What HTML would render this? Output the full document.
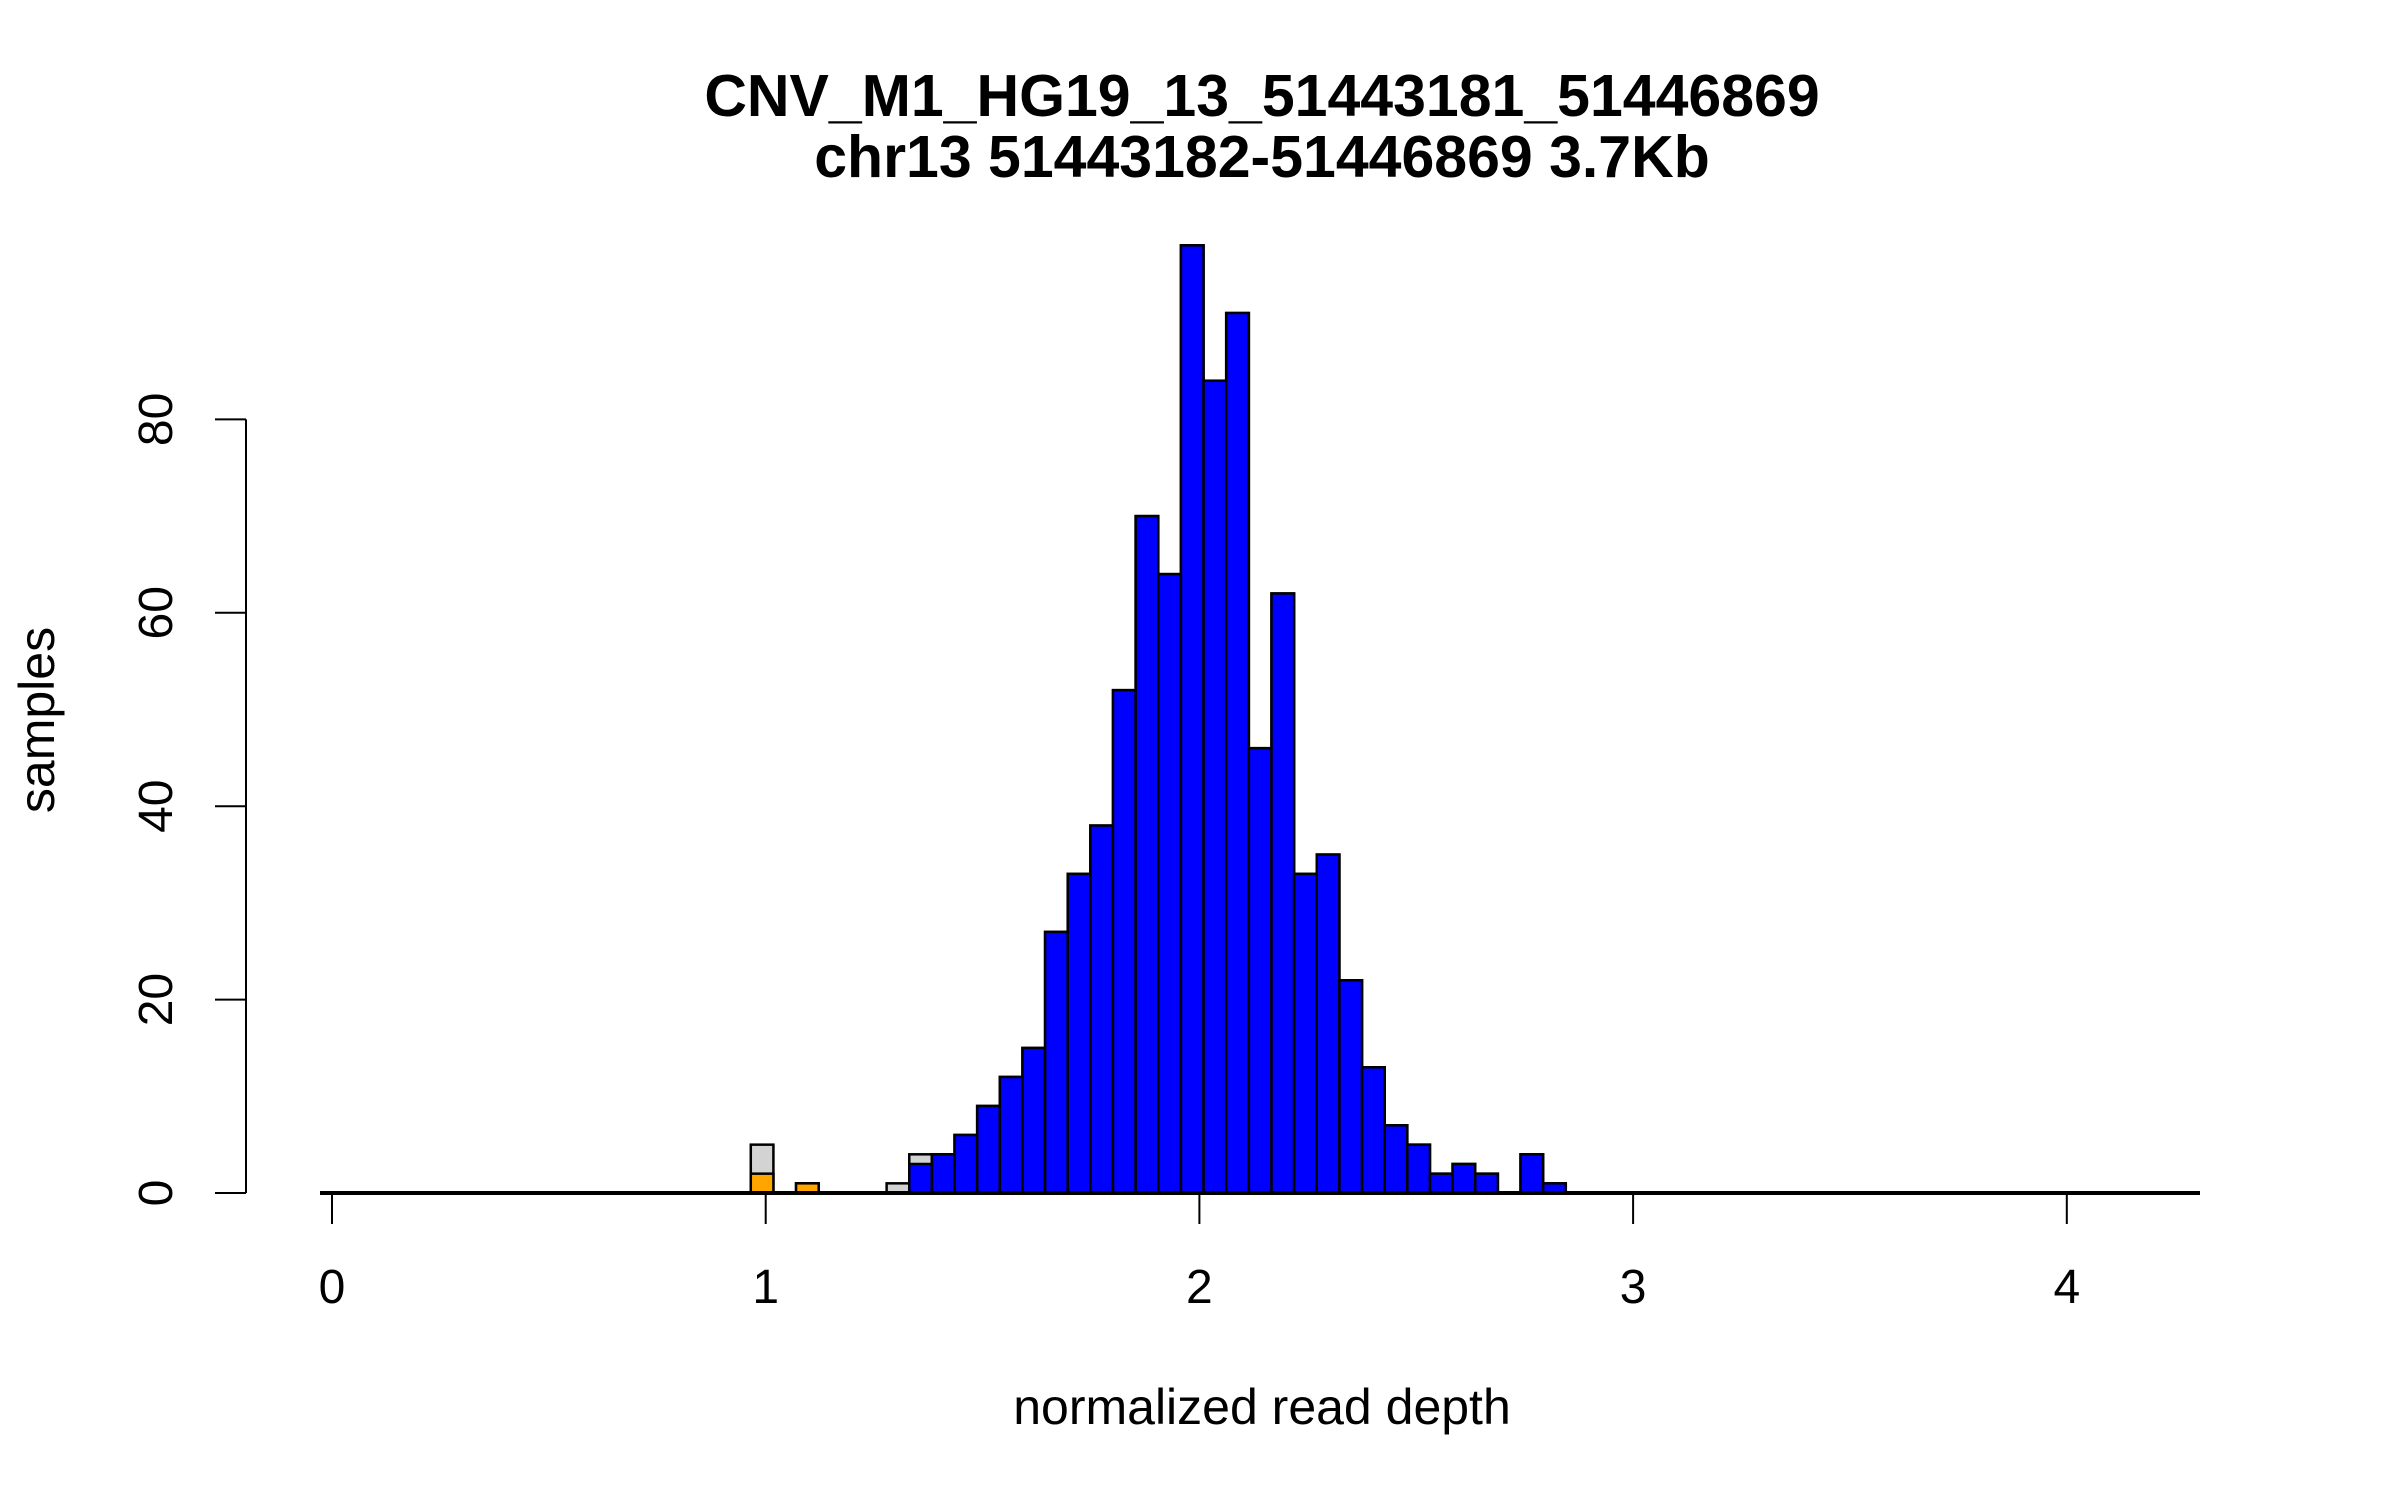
<!DOCTYPE html>
<html><head><meta charset="utf-8"><style>
body{margin:0;background:#fff}
svg{display:block}
text{font-family:"Liberation Sans",sans-serif;fill:#000}
</style></head><body>
<svg id="chart" width="2400" height="1500" viewBox="0 0 2400 1500" xmlns="http://www.w3.org/2000/svg">
<text x="1262" y="116" font-size="59" font-weight="bold" text-anchor="middle">CNV_M1_HG19_13_51443181_51446869</text>
<text x="1262" y="177" font-size="59" font-weight="bold" text-anchor="middle">chr13 51443182-51446869 3.7Kb</text>
<text x="1262" y="1424" font-size="50" text-anchor="middle">normalized read depth</text>
<text x="54" y="720" font-size="50" text-anchor="middle" transform="rotate(-90 54 720)">samples</text>
<g id="bars"></g>
<g id="axes"></g>
</svg>
<script>
const binStart = 1.331;
const binWidth = 0.0522;
const binIndex = [-7,-6,-5,-4,-3,-2,-1,0,1,2,3,4,5,6,7,8,9,10,11,12,13,14,15,16,17,18,19,20,21,22,23,24,25,26,27,28];
const totalCounts = [5,0,1,0,0,0,1,4,4,6,9,12,15,27,33,38,52,70,64,98,84,91,46,62,33,35,22,13,7,5,2,3,2,0,4,1];
const orangeCounts = [2,0,1,0,0,0,0,0,0,0,0,0,0,0,0,0,0,0,0,0,0,0,0,0,0,0,0,0,0,0,0,0,0,0,0,0];
const blueCounts = [0,0,0,0,0,0,0,3,4,6,9,12,15,27,33,38,52,70,64,98,84,91,46,62,33,35,22,13,7,5,2,3,2,0,4,1];
const xTicks = [0,1,2,3,4];
const yTicks = [0,20,40,60,80];

const NS = "http://www.w3.org/2000/svg";
const xs = v => 332 + v * 433.7;
const ys = v => 1193 - v * 9.67;
const barsG = document.getElementById('bars');
const axesG = document.getElementById('axes');

function drawSeries(counts, color, name) {
  counts.forEach((c, i) => {
    if (c <= 0) return;
    const x0 = xs(binStart + binIndex[i] * binWidth);
    const x1 = xs(binStart + (binIndex[i] + 1) * binWidth);
    const r = document.createElementNS(NS, 'rect');
    r.setAttribute('x', x0);
    r.setAttribute('y', ys(c));
    r.setAttribute('width', x1 - x0);
    r.setAttribute('height', ys(0) - ys(c));
    r.setAttribute('fill', color);
    r.setAttribute('stroke', '#000');
    r.setAttribute('stroke-width', '2.5');
    
    
    barsG.appendChild(r);
  });
}
drawSeries(totalCounts, '#d3d3d3', 'bar-all-samples');
drawSeries(orangeCounts, '#ffa500', 'bar-orange');
drawSeries(blueCounts, '#0000ff', 'bar-blue');

function line(x1, y1, x2, y2, w, name) {
  const l = document.createElementNS(NS, 'line');
  l.setAttribute('x1', x1); l.setAttribute('y1', y1);
  l.setAttribute('x2', x2); l.setAttribute('y2', y2);
  l.setAttribute('stroke', '#000');
  l.setAttribute('stroke-width', w);
  
  
  axesG.appendChild(l);
  return l;
}
function text(x, y, s, name, rot) {
  const t = document.createElementNS(NS, 'text');
  t.setAttribute('x', x); t.setAttribute('y', y);
  t.setAttribute('font-size', '48');
  t.setAttribute('text-anchor', 'middle');
  if (rot) t.setAttribute('transform', 'rotate(-90 ' + x + ' ' + y + ')');
  t.textContent = s;
  
  
  axesG.appendChild(t);
}
line(320, ys(0), 2200, ys(0), 4, 'baseline');
xTicks.forEach(v => {
  line(xs(v), ys(0), xs(v), 1224, 2, 'x-tick');
  text(xs(v), 1303, String(v), 'x-tick-label');
});
line(246, ys(yTicks[0]), 246, ys(yTicks[yTicks.length - 1]), 2, 'y-axis-line');
yTicks.forEach(v => {
  line(215, ys(v), 246, ys(v), 2, 'y-tick');
  text(172, ys(v), String(v), 'y-tick-label', true);
});
</script>
</body></html>
